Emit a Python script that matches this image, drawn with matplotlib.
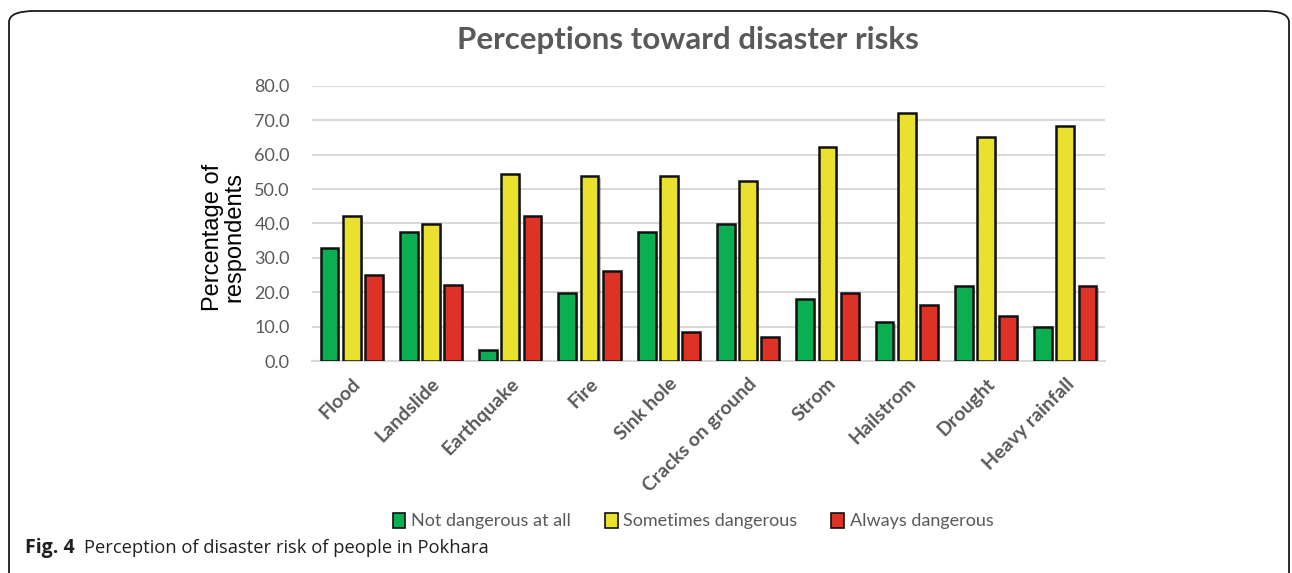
import matplotlib
matplotlib.use("Agg")
import matplotlib.pyplot as plt
import matplotlib.patheffects as pe
from matplotlib.patches import FancyBboxPatch, Rectangle
import numpy as np

categories = ["Flood", "Landslide", "Earthquake", "Fire", "Sink hole",
              "Cracks on ground", "Strom", "Hailstrom", "Drought", "Heavy rainfall"]
not_dangerous = [32.9, 37.6, 3.3, 19.8, 37.6, 39.9, 17.9, 11.3, 21.7, 9.9]
sometimes_dangerous = [42.2, 39.9, 54.3, 53.8, 53.8, 52.4, 62.2, 72.0, 65.1, 68.3]
always_dangerous = [24.9, 22.1, 42.2, 26.3, 8.5, 7.1, 19.8, 16.4, 13.2, 21.7]
series_names = ["Not dangerous at all", "Sometimes dangerous", "Always dangerous"]
series_colors = ["#09AF50", "#EAE12F", "#DF3226"]
yticks = [0, 10, 20, 30, 40, 50, 60, 70, 80]

GREY = "#595959"
W, H = 1292, 573
fig = plt.figure(figsize=(W / 100, H / 100), dpi=100)

# rounded outer frame, open at the bottom
frame = FancyBboxPatch((9 / W, -0.1), 1280 / W, 1.1 - 11 / H,
                       boxstyle="round,pad=0,rounding_size=0.02",
                       transform=fig.transFigure, fill=False,
                       edgecolor="#1a1a1a", linewidth=1.3, mutation_aspect=H / W * 2.2)
fig.patches.append(frame)

ax = fig.add_axes([312 / W, 1 - 361 / H, 793 / W, 275 / H])

x = np.arange(len(categories))
pitch = 0.28
width = 0.225
shadow = [pe.SimplePatchShadow(offset=(1.5, -1.5), shadow_rgbFace="#000000", alpha=0.25), pe.Normal()]
for i, (vals, col) in enumerate(zip([not_dangerous, sometimes_dangerous, always_dangerous], series_colors)):
    bars = ax.bar(x + (i - 1) * pitch, vals, width=width, color=col,
                  edgecolor="#111111", linewidth=1.8, zorder=3, label=series_names[i])
    for b in bars:
        b.set_path_effects(shadow)

ax.set_xlim(-0.5, len(categories) - 0.5)
ax.set_ylim(0, 80)
ax.set_yticks(yticks)
ax.set_yticklabels([f"{v:.1f}" for v in yticks], fontsize=13, color=GREY, family="Lato")
ax.set_xticks(x)
ax.set_xticklabels(categories, rotation=45, ha="right", va="top", rotation_mode="anchor",
                   fontsize=14, fontweight="bold", color=GREY, family="Lato")
ax.tick_params(axis="both", length=0)
ax.tick_params(axis="y", pad=16)
ax.tick_params(axis="x", pad=10)
ax.yaxis.grid(True, color="#D9D9D9", linewidth=1.5, zorder=0)
ax.set_axisbelow(True)
for s in ["top", "right", "left"]:
    ax.spines[s].set_visible(False)
ax.spines["bottom"].set_color("#D9D9D9")
ax.spines["bottom"].set_linewidth(1.5)

ax.set_ylabel("Percentage of\nrespondents", fontsize=17, color="black",
              family="Liberation Sans", linespacing=0.95)
ax.yaxis.set_label_coords(-0.084, 0.45)

fig.text(688 / W, 1 - 40 / H, "Perceptions toward disaster risks", ha="center", va="center",
         fontsize=22.5, fontweight="bold", color=GREY, family="Lato")

handles = [Rectangle((0, 0), 1, 1, facecolor=c, edgecolor="#111111", linewidth=1.2) for c in series_colors]
fig.legend(handles, series_names, loc="center", bbox_to_anchor=(693 / W, 1 - 521 / H),
           ncol=3, frameon=False, handlelength=0.7, handleheight=0.95, handletextpad=0.3,
           columnspacing=1.9, prop={"family": "Lato", "size": 13}, labelcolor=GREY)

fig.text(25 / W, 1 - 548 / H, "Fig. 4", fontsize=14, color="#231F20", fontweight="bold",
         family="Open Sans", va="center", ha="left")
fig.text(84 / W, 1 - 548 / H, "Perception of disaster risk of people in Pokhara",
         fontsize=13.2, color="#231F20", family="Open Sans", va="center", ha="left")

fig.savefig("out.png", dpi=100)
